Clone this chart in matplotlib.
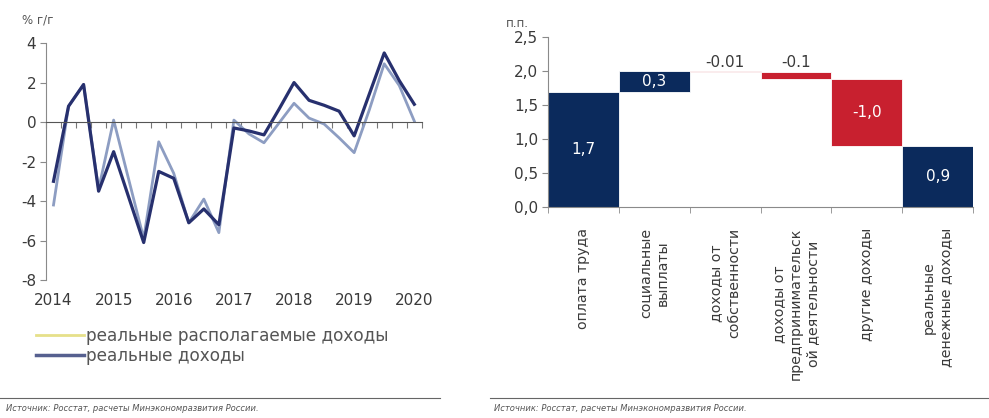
import numpy as np
import matplotlib
matplotlib.use("Agg")
import matplotlib.pyplot as plt
from matplotlib.lines import Line2D
from matplotlib.transforms import blended_transform_factory

plt.rcParams['font.family'] = ['DejaVu Sans']

# квартальные данные 2014 Q1 - 2020 Q1, % г/г
quarters = np.arange(25)
years = ['2014', '2015', '2016', '2017', '2018', '2019', '2020']
real_disposable = [-4.2, 0.8, 1.9, -3.4, 0.1, -2.9, -5.9, -1.0, -2.6, -5.1, -3.9, -5.6,
                   0.1, -0.6, -1.05, -0.05, 0.95, 0.2, -0.1, -0.8, -1.55, 0.6, 2.95, 1.85, 0.05]
real_income = [-3.0, 0.8, 1.9, -3.5, -1.5, -3.8, -6.1, -2.5, -2.85, -5.1, -4.4, -5.2,
               -0.3, -0.45, -0.65, 0.65, 2.0, 1.1, 0.85, 0.55, -0.7, 1.4, 3.5, 2.1, 0.9]

# вклад компонентов в реальные денежные доходы, п.п.
components = ['оплата труда', 'социальные\nвыплаты', 'доходы от\nсобственности',
              'доходы от\nпредпринимательск\nой деятельности', 'другие доходы',
              'реальные\nденежные доходы']
contrib = [1.7, 0.3, -0.01, -0.1, -1.0]
total = 0.9
labels = ['1,7', '0,3', '-0.01', '-0.1', '-1,0', '0,9']

navy = '#0b2a5c'
red = '#c8202f'
grey = '#8a8a8a'
txt = '#3a3a3a'

fig = plt.figure(figsize=(9.89, 4.18), dpi=100)

# --- левый график ---
ax1 = fig.add_axes([0.0465, 0.330, 0.380, 0.567])
ax1.plot(quarters, real_disposable, color='#8d9dc2', lw=2.0)
ax1.plot(quarters, real_income, color='#27306e', lw=2.3)
ax1.set_xlim(-0.5, 24.5)
ax1.set_ylim(-8, 4)
ax1.set_yticks(np.arange(-8, 5, 2))
ax1.set_yticklabels([str(v) for v in range(-8, 5, 2)], fontsize=11, color=txt)
ax1.spines['top'].set_visible(False)
ax1.spines['right'].set_visible(False)
ax1.spines['left'].set_color(grey)
ax1.spines['bottom'].set_position(('data', 0))
ax1.spines['bottom'].set_color('#555555')
ax1.set_xticks(np.arange(-0.5, 25, 1))
ax1.set_xticklabels([])
ax1.tick_params(axis='x', direction='out', length=4, color='#777777')
ax1.tick_params(axis='y', direction='out', length=4, color=grey, pad=3)
tr = blended_transform_factory(ax1.transData, ax1.transAxes)
for i, y in enumerate(years):
    ax1.text(i * 4, -0.085, y, transform=tr, ha='center', va='center',
             fontsize=11, color=txt)
fig.text(0.022, 0.952, '% г/г', fontsize=8.5, color='#555555', ha='left', va='center')

handles = [Line2D([], [], color='#e6e08a', lw=2),
           Line2D([], [], color='#56608f', lw=2.5)]
fig.legend(handles, ['реальные располагаемые доходы', 'реальные доходы'],
           loc='upper left', bbox_to_anchor=(0.03, 0.234), frameon=False,
           fontsize=12.2, labelcolor='#555555', handlelength=2.8,
           handletextpad=0.1, labelspacing=0.1, borderaxespad=0)

# --- правый график (водопад) ---
ax2 = fig.add_axes([0.554, 0.505, 0.430, 0.406])
x = np.arange(len(components))
bottoms, heights, colors = [], [], []
level = 0.0
for v in contrib:
    if v >= 0:
        bottoms.append(level)
    else:
        bottoms.append(level + v)
    heights.append(abs(v))
    colors.append(navy if v >= 0 else red)
    level += v
bottoms.append(0.0)
heights.append(total)
colors.append(navy)
ax2.bar(x, heights, bottom=bottoms, width=1.0, color=colors, edgecolor='white', lw=0.6)

for i, lab in enumerate(labels):
    top = bottoms[i] + heights[i]
    if heights[i] < 0.2:
        ax2.text(x[i], top + 0.02, lab, ha='center', va='bottom', fontsize=11, color=txt)
    else:
        ax2.text(x[i], bottoms[i] + heights[i] / 2, lab, ha='center', va='center',
                 fontsize=11, color='white')

ax2.set_xlim(-0.5, len(components) - 0.5)
ax2.set_ylim(0, 2.5)
ax2.set_yticks(np.arange(0, 2.51, 0.5))
ax2.set_yticklabels([f'{v:.1f}'.replace('.', ',') for v in np.arange(0, 2.51, 0.5)],
                    fontsize=11, color=txt)
ax2.set_xticks(x)
ax2.set_xticklabels(components, rotation=90, fontsize=10.2, color=txt,
                    multialignment='center', linespacing=1.3)
ax2.set_xticks(np.arange(-0.5, len(components), 1), minor=True)
ax2.tick_params(axis='x', which='major', length=0, pad=15)
ax2.tick_params(axis='x', which='minor', direction='out', length=4, color=grey)
ax2.tick_params(axis='y', direction='out', length=4, color=grey, pad=3)
for s in ['top', 'right']:
    ax2.spines[s].set_visible(False)
ax2.spines['left'].set_color(grey)
ax2.spines['bottom'].set_color(grey)
fig.text(0.512, 0.943, 'п.п.', fontsize=8.5, color='#555555', ha='left', va='center')

# --- источники ---
for x0, x1 in [(0.0, 0.445), (0.495, 1.0)]:
    fig.add_artist(Line2D([x0, x1], [0.047, 0.047], color='#666666', lw=0.8))
src = 'Источник: Росстат, расчеты Минэкономразвития России.'
fig.text(0.006, 0.022, src, fontsize=6, style='italic', color='#555555', va='center')
fig.text(0.500, 0.022, src, fontsize=6, style='italic', color='#555555', va='center')

fig.savefig('out.png', dpi=100)
